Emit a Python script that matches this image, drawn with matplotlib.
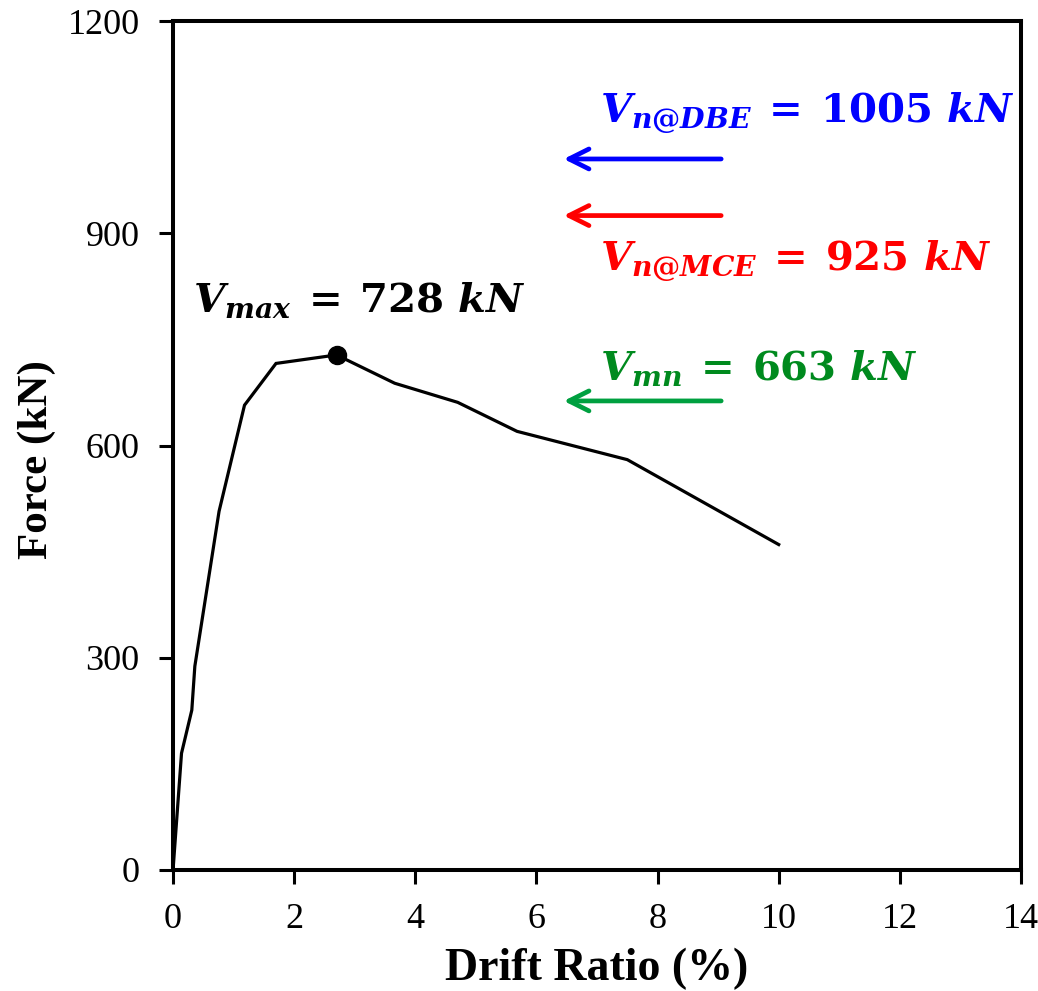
import matplotlib
matplotlib.use("Agg")
import matplotlib.pyplot as plt

# Pushover response: drift ratio (%) vs. base shear force (kN)
drift = [0.0, 0.14, 0.31, 0.36, 0.76, 1.18, 1.70, 2.70, 3.66, 4.70, 5.68, 7.50, 10.0]
force = [0.0, 165, 226, 288, 507, 657, 716, 728, 688, 661, 620, 580, 460]

# Peak point
v_max_drift = 2.70
v_max = 728

# Nominal shear capacities
v_dbe = 1005
v_mce = 925
v_mn = 663

x_ticks = [0, 2, 4, 6, 8, 10, 12, 14]
y_ticks = [0, 300, 600, 900, 1200]

plt.rcParams["mathtext.fontset"] = "custom"
plt.rcParams["mathtext.it"] = "DejaVu Serif:italic:bold"
plt.rcParams["mathtext.rm"] = "DejaVu Serif:bold"
plt.rcParams["mathtext.bf"] = "DejaVu Serif:bold"

fig = plt.figure(figsize=(10.38, 9.91), dpi=100)
ax = fig.add_axes([0.1667, 0.1221, 0.8169, 0.8567])

ax.plot(drift, force, color="black", lw=2.3, solid_joinstyle="miter", zorder=3)
ax.plot([v_max_drift], [v_max], "o", color="black", ms=13, zorder=4)

ax.set_xlim(0, 14)
ax.set_ylim(0, 1200)
ax.set_xticks(x_ticks)
ax.set_yticks(y_ticks)

for s in ax.spines.values():
    s.set_linewidth(2.9)
ax.tick_params(direction="out", length=10, width=2.2, pad=14,
               labelsize=26)
for lab in ax.get_xticklabels() + ax.get_yticklabels():
    lab.set_fontfamily("Liberation Serif")

ax.set_xlabel("Drift Ratio (%)", fontsize=33, fontweight="bold",
              family="Liberation Serif")
ax.set_ylabel("Force (kN)", fontsize=31, fontweight="bold",
              family="Liberation Serif")
ax.xaxis.set_label_coords(0.5, -0.092)
ax.yaxis.set_label_coords(-0.138, 0.483)

# Capacity arrows pointing left
arrow_specs = [(v_dbe, "#0000FF"), (v_mce, "#FF0000"), (v_mn, "#00A040")]
for val, col in arrow_specs:
    ax.annotate("", xy=(6.45, val), xytext=(9.05, val),
                arrowprops=dict(arrowstyle="->", color=col, lw=3.4,
                                mutation_scale=36, shrinkA=0, shrinkB=0))

txt_size = 29
ax.text(0.33, 789, r"$V_{max}\:=\:728\ kN$", fontsize=txt_size,
        color="black", ha="left", va="baseline")
ax.text(7.05, 1056, r"$V_{n@DBE}\:=\:1005\ kN$", fontsize=txt_size,
        color="#0000FF", ha="left", va="baseline")
ax.text(7.05, 847, r"$V_{n@MCE}\:=\:925\ kN$", fontsize=txt_size,
        color="#FF0000", ha="left", va="baseline")
ax.text(7.05, 693, r"$V_{mn}\:=\:663\ kN$", fontsize=txt_size,
        color="#008A1E", ha="left", va="baseline")

fig.savefig("out.png", dpi=100)
